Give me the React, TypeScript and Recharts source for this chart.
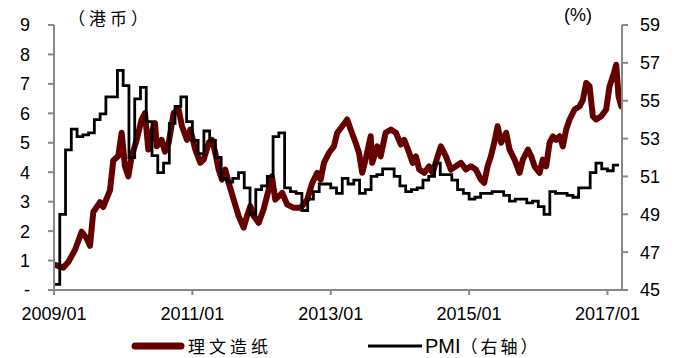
import React from 'react';
import { ComposedChart, Line, XAxis, YAxis } from 'recharts';

// 理文造纸 share price (HK$), time as decimal year
const stockYears = [
  2009.014, 2009.134, 2009.207, 2009.303, 2009.4, 2009.473, 2009.52, 2009.568, 2009.665, 2009.712,
  2009.809, 2009.857, 2009.929, 2009.978, 2010.026, 2010.074, 2010.123, 2010.195, 2010.267, 2010.315,
  2010.363, 2010.412, 2010.46, 2010.484, 2010.556, 2010.604, 2010.658, 2010.73, 2010.802, 2010.85,
  2010.922, 2010.97, 2011.042, 2011.114, 2011.163, 2011.236, 2011.283, 2011.331, 2011.38, 2011.428,
  2011.475, 2011.525, 2011.597, 2011.669, 2011.741, 2011.789, 2011.837, 2011.886, 2011.958, 2012.03,
  2012.103, 2012.15, 2012.198, 2012.299, 2012.371, 2012.468, 2012.565, 2012.66, 2012.733, 2012.805,
  2012.854, 2012.902, 2012.974, 2013.046, 2013.094, 2013.166, 2013.238, 2013.288, 2013.36, 2013.408,
  2013.455, 2013.504, 2013.577, 2013.6, 2013.672, 2013.721, 2013.793, 2013.87, 2013.942, 2014.014,
  2014.062, 2014.134, 2014.184, 2014.231, 2014.279, 2014.351, 2014.423, 2014.473, 2014.545, 2014.592,
  2014.665, 2014.737, 2014.809, 2014.882, 2014.954, 2015.026, 2015.098, 2015.171, 2015.218, 2015.267,
  2015.315, 2015.363, 2015.412, 2015.464, 2015.536, 2015.585, 2015.657, 2015.73, 2015.777, 2015.85,
  2015.897, 2015.946, 2016.019, 2016.066, 2016.114, 2016.163, 2016.211, 2016.259, 2016.308, 2016.355,
  2016.403, 2016.452, 2016.525, 2016.597, 2016.645, 2016.692, 2016.741, 2016.789, 2016.837, 2016.909,
  2016.981, 2017.03, 2017.078, 2017.126, 2017.16, 2017.198,
];
const stockPrices = [
  0.85, 0.76, 0.95, 1.36, 1.98, 1.75, 1.5, 2.65, 2.98, 2.82,
  3.38, 4.4, 4.55, 5.34, 4.2, 3.86, 4.54, 5.1, 5.79, 6.01,
  4.77, 5.34, 5.67, 4.88, 5.1, 4.7, 5.0, 6.01, 6.13, 5.56,
  5.1, 5.45, 4.77, 4.32, 4.43, 5.0, 5.1, 4.66, 4.09, 3.75,
  4.09, 3.64, 3.07, 2.51, 2.12, 2.51, 2.85, 2.51, 2.28, 2.74,
  3.41, 3.86, 3.07, 3.3, 2.9, 2.79, 2.79, 3.07, 3.64, 3.98,
  3.75, 4.32, 4.66, 4.88, 5.34, 5.56, 5.79, 5.45, 5.0, 4.66,
  3.98, 4.43, 5.22, 4.32, 4.88, 4.54, 5.34, 5.45, 5.34, 4.94,
  5.1, 4.66, 4.32, 4.54, 4.09, 3.98, 4.2, 3.98, 4.54, 4.88,
  4.54, 4.09, 4.2, 4.32, 4.09, 4.2, 4.09, 3.75, 3.64, 4.2,
  4.54, 5.0, 5.56, 5.0, 5.34, 4.77, 4.43, 3.98, 4.43, 4.77,
  4.54, 4.2, 3.98, 4.43, 4.2, 5.0, 5.22, 5.1, 5.22, 4.88,
  5.45, 5.79, 6.13, 6.24, 6.46, 7.03, 6.92, 5.9, 5.79, 5.9,
  6.13, 6.92, 7.25, 7.65, 6.58, 6.24,
];

// China manufacturing PMI (%), monthly from 2009/01 to 2017/02
const pmiFirstYear = 2009;
const pmiValues = [
  45.3, 49.0, 52.4, 53.5, 53.1, 53.2, 53.3, 54.0, 54.3, 55.2, 55.2, 56.6,
  55.8, 52.0, 55.1, 55.7, 53.9, 52.1, 51.2, 51.7, 53.8, 54.7, 55.2, 53.9,
  52.9, 52.2, 53.4, 52.9, 52.0, 50.9, 50.7, 50.9, 51.2, 50.4, 49.0, 50.3,
  50.5, 51.0, 53.1, 53.3, 50.4, 50.2, 50.1, 49.2, 49.8, 50.2, 50.6, 50.6,
  50.4, 50.1, 50.9, 50.6, 50.8, 50.1, 50.3, 51.0, 51.1, 51.4, 51.4, 51.0,
  50.5, 50.2, 50.3, 50.4, 50.8, 51.0, 51.7, 51.1, 51.1, 50.8, 50.3, 50.1,
  49.8, 49.9, 50.1, 50.1, 50.2, 50.2, 50.0, 49.7, 49.8, 49.8, 49.6, 49.7,
  49.4, 49.0, 50.2, 50.1, 50.1, 50.0, 49.9, 50.4, 50.4, 51.2, 51.7, 51.4,
  51.3, 51.6,
];

const xTicks = [2009, 2011, 2013, 2015, 2017];
const leftTicks = [0, 1, 2, 3, 4, 5, 6, 7, 8, 9];
const rightTicks = [45, 47, 49, 51, 53, 55, 57, 59];

const stockData = stockYears.map((t, i) => ({ t, price: stockPrices[i] }));
// each monthly reading is held until the next month starts
const pmiData = [
  ...pmiValues.map((v, i) => ({ t: pmiFirstYear + i / 12, pmi: v })),
  { t: pmiFirstYear + pmiValues.length / 12, pmi: pmiValues[pmiValues.length - 1] },
];

const LATIN = '"Liberation Sans", Arial, sans-serif';
const CJK = '"Noto Sans CJK SC", "Liberation Sans", sans-serif';
const AXIS = '#888888';
const STOCK = '#650000';

const tickStyle = { fill: '#000', fontSize: 18, fontFamily: LATIN };

export default function App() {
  return (
    <div style={{ position: 'absolute', left: 0, top: 0, width: 682, height: 358, background: '#fff', overflow: 'hidden' }}>
      <ComposedChart width={682} height={358} margin={{ top: 25, right: 0, bottom: 28, left: 0 }}>
        <XAxis
          type="number"
          dataKey="t"
          domain={[2009, 2017.21]}
          ticks={xTicks}
          tickFormatter={(v: number) => `${v}/01`}
          height={40}
          stroke={AXIS}
          strokeWidth={2}
          tickSize={5}
          tickMargin={12}
          tick={tickStyle}
          allowDataOverflow
        />
        <YAxis
          yAxisId="left"
          orientation="left"
          domain={[0, 9]}
          ticks={leftTicks}
          tickFormatter={(v: number) => (v === 0 ? '-' : String(v))}
          width={54}
          stroke={AXIS}
          strokeWidth={2}
          tickSize={6}
          tickMargin={18}
          tick={tickStyle}
          interval={0}
        />
        <YAxis
          yAxisId="right"
          orientation="right"
          domain={[45, 59]}
          ticks={rightTicks}
          width={60}
          stroke={AXIS}
          strokeWidth={2}
          tickSize={6}
          tickMargin={12}
          tick={tickStyle}
          interval={0}
        />
        <Line
          yAxisId="left"
          data={stockData}
          dataKey="price"
          type="linear"
          stroke={STOCK}
          strokeWidth={6}
          strokeLinejoin="round"
          strokeLinecap="round"
          dot={false}
          isAnimationActive={false}
        />
        <Line
          yAxisId="right"
          data={pmiData}
          dataKey="pmi"
          type="stepAfter"
          stroke="#000"
          strokeWidth={2.8}
          dot={false}
          isAnimationActive={false}
        />
      </ComposedChart>

      <div style={{ position: 'absolute', left: 68, top: 5, fontFamily: CJK, fontSize: 17, letterSpacing: 4, color: '#000', whiteSpace: 'nowrap' }}>
        （港币）
      </div>
      <div style={{ position: 'absolute', left: 564, top: 5, fontFamily: LATIN, fontSize: 18, color: '#000' }}>
        (%)
      </div>

      <div style={{ position: 'absolute', left: 131, top: 336, height: 20, display: 'flex', alignItems: 'center', whiteSpace: 'nowrap' }}>
        <svg width={54} height={10}>
          <line x1={4} y1={5} x2={50} y2={5} stroke={STOCK} strokeWidth={7} strokeLinecap="round" />
        </svg>
        <span style={{ marginLeft: 3, fontFamily: CJK, fontSize: 17, letterSpacing: 4, lineHeight: '20px' }}>理文造纸</span>
      </div>
      <div style={{ position: 'absolute', left: 368, top: 336, height: 20, display: 'flex', alignItems: 'center', whiteSpace: 'nowrap' }}>
        <svg width={54} height={10}>
          <line x1={0} y1={5} x2={54} y2={5} stroke="#000" strokeWidth={3} />
        </svg>
        <span style={{ marginLeft: 3, fontFamily: LATIN, fontSize: 20, lineHeight: '20px' }}>PMI</span>
        <span style={{ fontFamily: CJK, fontSize: 17, letterSpacing: 3, lineHeight: '20px' }}>（右轴）</span>
      </div>
    </div>
  );
}
